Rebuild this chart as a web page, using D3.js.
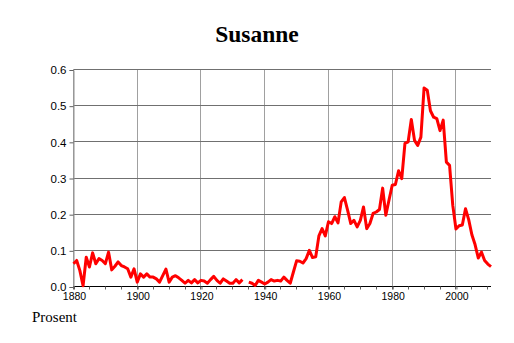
<!DOCTYPE html>
<html>
<head>
<meta charset="utf-8">
<script src="https://cdn.jsdelivr.net/npm/d3@7"></script>
<style>
  html, body { margin: 0; padding: 0; background: #fff; }
  svg { display: block; }
</style>
</head>
<body>
<svg id="chart" width="514" height="343"></svg>
<script>
const title = "Susanne";
const yLabel = "Prosent";
const firstYear = 1880;
const lastYear = 2011;
const values = [
  0.063, 0.072, 0.044, 0.002, 0.081, 0.054, 0.093, 0.063, 0.077, 0.072,
  0.063, 0.095, 0.046, 0.056, 0.068, 0.058, 0.054, 0.049, 0.026, 0.049,
  0.012, 0.035, 0.026, 0.035, 0.026, 0.026, 0.021, 0.012, 0.030, 0.048,
  0.012, 0.026, 0.030, 0.024, 0.017, 0.009, 0.017, 0.010, 0.019, 0.010,
  0.017, 0.015, 0.009, 0.019, 0.028, 0.017, 0.009, 0.021, 0.015, 0.009,
  0.009, 0.019, 0.010, 0.019, null,  0.012, 0.009, 0.003, 0.017, 0.012,
  0.007, 0.012, 0.019, 0.015, 0.017, 0.015, 0.026, 0.017, 0.009, 0.040,
  0.071, 0.070, 0.065, 0.077, 0.100, 0.080, 0.082, 0.140, 0.160, 0.140,
  0.179, 0.174, 0.193, 0.176, 0.234, 0.246, 0.211, 0.174, 0.183, 0.165,
  0.183, 0.220, 0.160, 0.174, 0.202, 0.206, 0.213, 0.272, 0.197, 0.239,
  0.280, 0.282, 0.320, 0.298, 0.396, 0.400, 0.462, 0.404, 0.390, 0.413,
  0.549, 0.543, 0.486, 0.468, 0.464, 0.431, 0.460, 0.344, 0.335, 0.225,
  0.159, 0.168, 0.170, 0.215, 0.185, 0.143, 0.116, 0.079, 0.095, 0.072,
  0.062, 0.055
];
const years = d3.range(firstYear, lastYear + 1);
const xMajorTicks = [1880, 1900, 1920, 1940, 1960, 1980, 2000];
const xMinorTicks = d3.range(1880, 2011, 5);
const yTicks = [0, 0.1, 0.2, 0.3, 0.4, 0.5, 0.6];

const data = years.map((y, i) => ({ year: y, value: values[i] }));

const svg = d3.select("#chart");
const x = d3.scaleLinear().domain([firstYear, lastYear]).range([73.5, 491]);
const y = d3.scaleLinear().domain([0, 0.6]).range([286.5, 69.5]);
const snap = v => Math.round(v - 0.5) + 0.5;

// vertical grid
svg.append("g").selectAll("line").data(xMajorTicks).join("line")
  .attr("x1", d => snap(x(d))).attr("x2", d => snap(x(d)))
  .attr("y1", y(0.6)).attr("y2", y(0))
  .attr("stroke", "#a0a0a0").attr("stroke-width", 1);

// horizontal grid
svg.append("g").selectAll("line").data(yTicks).join("line")
  .attr("x1", x(firstYear)).attr("x2", x(lastYear))
  .attr("y1", d => snap(y(d))).attr("y2", d => snap(y(d)))
  .attr("stroke", d => d === 0 ? "#000" : "#707070").attr("stroke-width", 1);

// y axis
const yAxis = d3.axisLeft(y).tickValues(yTicks).tickFormat(d3.format(".1f")).tickSize(4).tickPadding(3);
const gy = svg.append("g").attr("transform", `translate(${snap(x(firstYear))},0.5)`).call(yAxis);
gy.select(".domain").attr("stroke", "#909090");
gy.selectAll(".tick line").attr("stroke", "#606060");
gy.selectAll("text").attr("font-family", "Liberation Sans, Arial, sans-serif").attr("font-size", 11.5).attr("fill", "#000");

// x axis
const xAxis = d3.axisBottom(x).tickValues(xMajorTicks).tickFormat(d3.format("d")).tickSize(3).tickPadding(3);
const gx = svg.append("g").attr("transform", `translate(0.5,${snap(y(0))})`).call(xAxis);
gx.select(".domain").remove();
gx.selectAll(".tick line").attr("stroke", "#606060");
gx.selectAll("text").attr("font-family", "Liberation Sans, Arial, sans-serif").attr("font-size", 10.5).attr("fill", "#000");

// minor ticks
svg.append("g").selectAll("line").data(xMinorTicks).join("line")
  .attr("x1", d => snap(x(d))).attr("x2", d => snap(x(d)))
  .attr("y1", snap(y(0))).attr("y2", snap(y(0)) + 3)
  .attr("stroke", "#606060");

// data line
const line = d3.line()
  .defined(d => d.value !== null)
  .x(d => x(d.year))
  .y(d => y(d.value));
svg.append("path").datum(data)
  .attr("d", line)
  .attr("fill", "none")
  .attr("stroke", "#ff0000")
  .attr("stroke-width", 3)
  .attr("stroke-linejoin", "round");

// title
svg.append("text").attr("x", 257).attr("y", 42).attr("text-anchor", "middle")
  .attr("font-family", "Liberation Serif, Times New Roman, serif")
  .attr("font-weight", "bold").attr("font-size", 23.5).text(title);

// y label
svg.append("text").attr("x", 32).attr("y", 322)
  .attr("font-family", "Liberation Serif, Times New Roman, serif")
  .attr("font-size", 15).text(yLabel);
</script>
</body>
</html>
